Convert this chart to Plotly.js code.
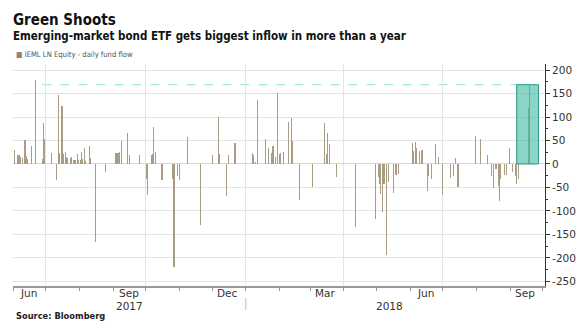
<!DOCTYPE html>
<html>
<head>
<meta charset="utf-8">
<script src="https://cdn.plot.ly/plotly-3.0.1.min.js"></script>
<style>html,body{margin:0;padding:0;background:#fff;}#chart{width:583px;height:333px;}</style>
</head>
<body>
<div id="chart"></div>
<script>
// ---- data: IEML LN Equity daily fund flow (USD mn) ----
const flowDates = [
  "2017-06-02","2017-06-05","2017-06-06","2017-06-07","2017-06-08","2017-06-10","2017-06-12","2017-06-13","2017-06-14","2017-06-18",
  "2017-06-22","2017-06-28","2017-06-29","2017-06-30","2017-07-06","2017-07-11","2017-07-13","2017-07-14","2017-07-16","2017-07-17",
  "2017-07-19","2017-07-20","2017-07-21","2017-07-24","2017-07-25","2017-07-27","2017-07-28","2017-07-30","2017-07-31","2017-08-02",
  "2017-08-03","2017-08-04","2017-08-06","2017-08-07","2017-08-10","2017-08-11","2017-08-16","2017-08-25","2017-09-03","2017-09-04",
  "2017-09-05","2017-09-06","2017-09-07","2017-09-09","2017-09-14","2017-09-16","2017-09-25","2017-10-02","2017-10-03","2017-10-06",
  "2017-10-07","2017-10-08","2017-10-10","2017-10-16","2017-10-26","2017-10-27","2017-10-30","2017-11-01","2017-11-08","2017-11-20",
  "2017-12-01","2017-12-07","2017-12-08","2017-12-14","2017-12-16","2017-12-22",
  "2018-01-07","2018-01-08","2018-01-10","2018-01-12","2018-01-19","2018-01-22","2018-01-25","2018-01-26","2018-01-28","2018-01-30",
  "2018-02-01","2018-02-02","2018-02-05","2018-02-09","2018-02-12","2018-02-13","2018-02-19","2018-03-03","2018-03-14","2018-03-16",
  "2018-03-17","2018-03-19","2018-03-25","2018-04-12","2018-04-30","2018-05-03","2018-05-04","2018-05-05","2018-05-07","2018-05-08",
  "2018-05-10","2018-05-12","2018-05-17","2018-05-19","2018-05-21","2018-06-03","2018-06-04","2018-06-06","2018-06-07","2018-06-10",
  "2018-06-12","2018-06-17","2018-06-18","2018-06-21","2018-06-24","2018-06-27","2018-07-01","2018-07-08","2018-07-11","2018-07-13",
  "2018-07-15","2018-07-31","2018-08-05","2018-08-11","2018-08-15","2018-08-17","2018-08-19","2018-08-21","2018-08-22","2018-08-23",
  "2018-08-27","2018-08-29","2018-08-31","2018-09-03","2018-09-06","2018-09-07","2018-09-09","2018-09-18","2018-09-19"
];
const flowValues = [
  30,19,19,19,15,13,51,18,11,39,
  179,11,87,53,23,-34,148,23,124,21,
  25,14,12,12,14,9,9,21,9,9,
  25,11,35,7,39,12,-167,-18,23,23,
  23,23,25,50,67,20,19,-32,-67,20,
  21,78,25,-34,-32,-220,-25,-34,58,-130,
  19,101,21,-69,20,45,
  23,20,5,137,53,33,23,38,14,152,
  21,23,25,90,99,50,-76,-50,87,21,
  67,43,-28,-135,-117,-28,-43,-64,-103,-43,
  -195,-39,-62,-23,-21,44,28,46,35,27,
  30,-57,-25,-32,43,14,-67,-30,-25,13,
  -48,60,53,20,-25,-51,-11,-46,-78,-32,
  -23,-23,35,-18,-25,-43,-32,120,169
];
const yTickVals = [-250,-200,-150,-100,-50,0,50,100,150,200];
const yTickText = yTickVals.map(v => (v < 0 ? "-" + Math.abs(v) : String(v)));
const monthLabels = ["Jun","Sep","Dec","Mar","Jun","Sep"];
const monthLabelDates = ["2017-06-15","2017-09-16","2017-12-15","2018-03-15","2018-06-15","2018-09-15"];
const yearLabels = ["2017","2018"];
const yearLabelDates = ["2017-09-16","2018-05-13"];
const gridDates = ["2017-07-01","2017-10-01","2018-01-01","2018-04-01","2018-07-01"];
const highlightStart = "2018-09-07", highlightEnd = "2018-09-27";
const dashStart = "2017-06-28";

// ---- layout helpers ----
const L = 13, R = 38, T = 64, B = 47, W = 583, H = 333;
const pw = W - L - R, ph = H - T - B;
const px = v => (v - L) / pw;           // pixel x -> paper x
const py = v => (H - B - v) / ph;       // pixel y -> paper y
const latest = flowValues[flowValues.length - 1];   // the biggest inflow in more than a year
const DAY = 86400000;

const annotations = [
  {text:"<b>Green Shoots</b>", xref:"paper", yref:"paper", x:px(11), y:py(20), xanchor:"left", yanchor:"middle", showarrow:false,
   font:{family:"DejaVu Sans Condensed", size:15, color:"#111"}},
  {text:"<b>Emerging-market bond ETF gets biggest inflow in more than a year</b>", xref:"paper", yref:"paper", x:px(11), y:py(36), xanchor:"left", yanchor:"middle", showarrow:false,
   font:{family:"DejaVu Sans Condensed", size:11.5, color:"#111"}},
  {text:"<span style='color:#8f8470'>■</span> IEML LN Equity - daily fund flow", xref:"paper", yref:"paper", x:px(14), y:py(54), xanchor:"left", yanchor:"middle", showarrow:false,
   font:{family:"DejaVu Sans Condensed", size:7.6, color:"#555"}},
  {text:"<b>Source: Bloomberg</b>", xref:"paper", yref:"paper", x:px(14), y:py(316), xanchor:"left", yanchor:"middle", showarrow:false,
   font:{family:"DejaVu Sans", size:8.3, color:"#222"}}
];
monthLabels.forEach((m,i) => annotations.push({text:m, xref:"x", yref:"paper", x:monthLabelDates[i], y:py(293), xanchor:"center", yanchor:"middle", showarrow:false,
  font:{family:"DejaVu Sans", size:10.5, color:"#333"}}));
yearLabels.forEach((m,i) => annotations.push({text:m, xref:"x", yref:"paper", x:yearLabelDates[i], y:py(305.5), xanchor:"center", yanchor:"middle", showarrow:false,
  font:{family:"DejaVu Sans", size:10.5, color:"#333"}}));

const shapes = [
  {type:"line", xref:"x", yref:"y", x0:dashStart, x1:highlightStart, y0:latest, y1:latest, line:{color:"#a8e2ea", width:1.2, dash:"dash"}, layer:"below"},
  {type:"rect", xref:"x", yref:"y", x0:highlightStart, x1:highlightEnd, y0:0, y1:latest, fillcolor:"rgba(60,185,160,0.6)", line:{color:"#2a9c86", width:1}, layer:"above"},
  {type:"line", xref:"x", yref:"paper", x0:"2018-01-01", x1:"2018-01-01", y0:py(298), y1:py(310), line:{color:"#bbb", width:1}}
];

const trace = {
  type:"bar", x:flowDates, y:flowValues, width:flowDates.map(()=>DAY*1.05),
  marker:{color:"#a99d86", line:{width:0}}, hoverinfo:"x+y"
};

const layout = {
  width:W, height:H, margin:{l:L, r:R, t:T, b:B}, paper_bgcolor:"#fff", plot_bgcolor:"#fff",
  showlegend:false, bargap:0,
  xaxis:{type:"date", range:["2017-06-01","2018-10-03"], tickvals:gridDates, showticklabels:false,
         ticks:"outside", ticklen:3, tickcolor:"#999", showgrid:true, gridcolor:"#e4e4e4", gridwidth:1,
         showline:true, linecolor:"#999", linewidth:1.5, zeroline:false,
         minor:{dtick:"M1", tick0:"2017-06-01", ticks:"outside", ticklen:3, tickcolor:"#999", showgrid:false}},
  yaxis:{side:"right", range:[-260,213], tickvals:yTickVals, ticktext:yTickText, ticks:"outside", ticklen:4, tickcolor:"#333",
         showline:true, linecolor:"#333", linewidth:1, showgrid:true, gridcolor:"#e4e4e4", zeroline:true, zerolinecolor:"#d6d6d6",
         tickfont:{family:"DejaVu Sans", size:10.5, color:"#333"},
         minor:{dtick:25, ticks:"outside", ticklen:2, tickcolor:"#333", showgrid:false}},
  annotations:annotations, shapes:shapes
};
Plotly.newPlot("chart", [trace], layout, {displayModeBar:false, staticPlot:true});
</script>
</body>
</html>
